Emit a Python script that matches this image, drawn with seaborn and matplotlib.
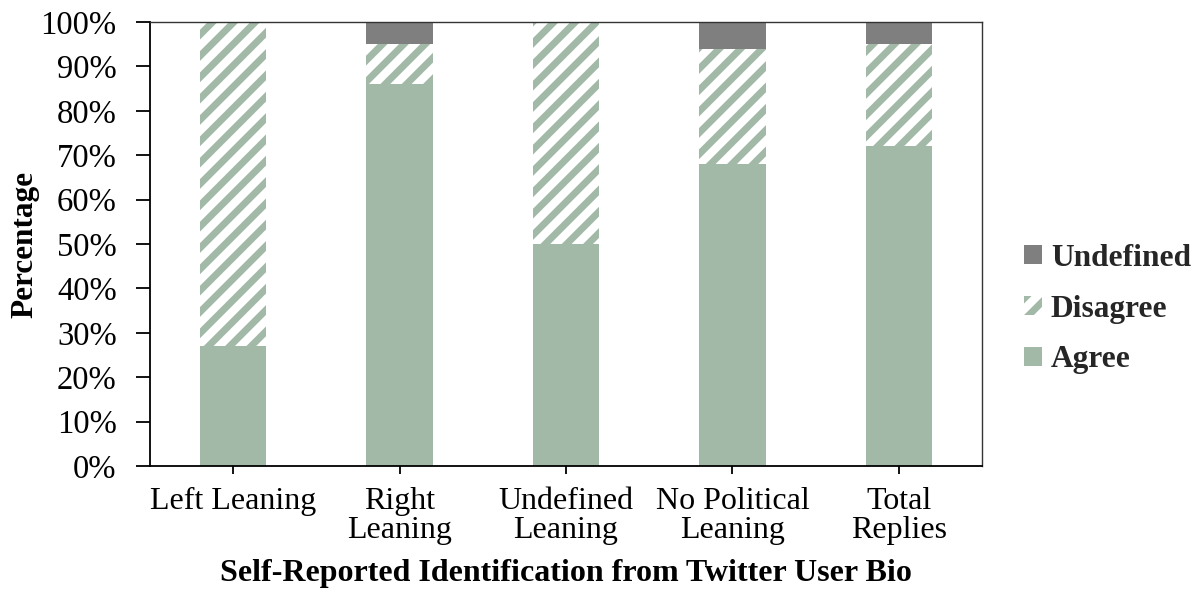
import matplotlib
matplotlib.use("Agg")
import matplotlib.pyplot as plt
import seaborn as sns
import pandas as pd
import numpy as np
from matplotlib.patches import Patch
from matplotlib.ticker import PercentFormatter

categories = ["Left Leaning", "Right\nLeaning", "Undefined\nLeaning", "No Political\nLeaning", "Total\nReplies"]
agree = [27, 86, 50, 68, 72]
disagree = [73, 9, 50, 26, 23]
undefined = [0, 5, 0, 6, 5]

DPI = 128
K = 100.0 / DPI  # convert sizes designed for 100 dpi


def s(v):
    return v * K


sns.set_theme(style="white")
plt.rcParams['font.family'] = ['Liberation Serif', 'DejaVu Serif']
plt.rcParams['hatch.linewidth'] = 3.9

GREEN = "#a2b9a8"
GRAY = "#7f7f7f"

df = pd.DataFrame({
    "cat": categories,
    "agree": agree,
    "disagree": disagree,
    "undefined": undefined,
})
df["cum_dis"] = df["agree"] + df["disagree"]
df["cum_und"] = df["cum_dis"] + df["undefined"]

fig = plt.figure(figsize=(1200 / DPI, 592 / DPI), dpi=DPI)
ax = fig.add_axes([150 / 1200, 1 - 466 / 592, (982 - 150) / 1200, (466 - 22) / 592])

sns.barplot(data=df, x="cat", y="cum_und", color=GRAY, width=0.4, ax=ax,
            saturation=1, linewidth=0, errorbar=None)
sns.barplot(data=df, x="cat", y="cum_dis", color="white", width=0.4, ax=ax,
            saturation=1, linewidth=0, errorbar=None)
for p in ax.patches[len(categories):2 * len(categories)]:
    p.set_facecolor("white")
    p.set_edgecolor(GREEN)
    p.set_hatch("//")
    p.set_linewidth(0)
sns.barplot(data=df, x="cat", y="agree", color=GREEN, width=0.4, ax=ax,
            saturation=1, linewidth=0, errorbar=None)

ax.set_ylim(0, 100)
ax.set_yticks(np.arange(0, 101, 10))
ax.yaxis.set_major_formatter(PercentFormatter(decimals=0))
ax.set_xlim(-0.5, len(categories) - 0.5)

for sp in ax.spines.values():
    sp.set_visible(True)
    sp.set_color("black")
    sp.set_linewidth(s(1.3))
ax.spines["top"].set_color("#333333")
ax.spines["right"].set_color("#333333")
ax.spines["top"].set_linewidth(s(1.0))
ax.spines["right"].set_linewidth(s(1.0))

ax.tick_params(axis="both", which="major", direction="out", width=s(1.3),
               color="black", labelcolor="black", bottom=True, left=True)
ax.tick_params(axis="x", length=s(6), pad=s(9), labelsize=s(23))
ax.tick_params(axis="y", length=s(10), pad=s(14), labelsize=s(23.5))
for lbl in ax.get_xticklabels():
    lbl.set_linespacing(1.0)

ax.set_xlabel("Self-Reported Identification from Twitter User Bio",
              fontsize=s(23), fontweight="bold", color="black", labelpad=s(10))
ax.set_ylabel("Percentage", fontsize=s(22.5), fontweight="bold", color="black", labelpad=s(1))

handles = [
    Patch(facecolor=GRAY, edgecolor=GRAY, linewidth=0, label="Undefined"),
    Patch(facecolor="white", edgecolor=GREEN, hatch="//", linewidth=0, label="Disagree"),
    Patch(facecolor=GREEN, edgecolor=GREEN, linewidth=0, label="Agree"),
]
leg = fig.legend(handles=handles, loc="center left", bbox_to_anchor=(0.830, 0.478),
                 frameon=False, handlelength=0.55, handleheight=0.55,
                 handletextpad=0.3, labelspacing=0.7,
                 prop={"family": "Liberation Serif", "weight": "bold", "size": s(22.6)})

fig.savefig("out.png", dpi=DPI, facecolor="white")
